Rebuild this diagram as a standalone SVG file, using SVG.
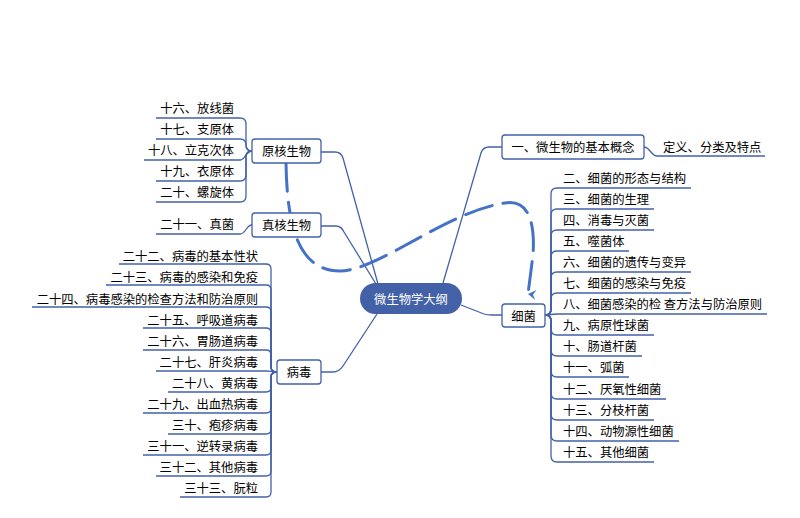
<svg xmlns="http://www.w3.org/2000/svg" width="800" height="518" viewBox="0 0 800 518">
<defs>
<style>
.c{fill:none;stroke:#4262a8;stroke-width:1.3}
.n rect{fill:#fff;stroke:#4262a8;stroke-width:1.3}
.t{font-family:"Noto Sans CJK SC","Noto Sans",sans-serif;font-size:12.3px;fill:#000;dominant-baseline:central}
.l{text-anchor:end}
.m{text-anchor:middle}
.d{fill:none;stroke:#4472c4;stroke-width:3;stroke-dasharray:28 11;stroke-linecap:round}
</style>
<marker id="ah" markerUnits="userSpaceOnUse" markerWidth="12" markerHeight="12" refX="6" refY="10" orient="auto-start-reverse" viewBox="0 0 12 12">
<path d="M1,2 L6,10 L11,2 L6,5 Z" fill="#4472c4"/>
</marker>
</defs>
<rect width="800" height="518" fill="#fff"/>
<g id="connectors">
<path class="c" d="M321,152 H335 Q341,152 343,158 L378,284"/>
<path class="c" d="M321,226 H336 Q341,226 344,232 L376,284"/>
<path class="c" d="M443,283 L481,153 Q483,147 489,147 H502"/>
<path class="c" d="M461,305 L484,314 Q487,315 492,315 H502"/>
<path class="c" d="M377,314 L343,366 Q339,372 333,372 H321"/>
<path class="c" d="M644,147 C650,147 651,156 657,156 H765"/>
<path class="c" d="M156,118 H240 Q246,118 246,124 V145 Q246,151 252,151"/>
<path class="c" d="M156,139 H240 Q246,139 246,145 Q246,151 252,151"/>
<path class="c" d="M144,160 H240 C245,160 246,151 252,151"/>
<path class="c" d="M156,181 H240 Q246,181 246,175 V157 Q246,151 252,151"/>
<path class="c" d="M156,202 H240 Q246,202 246,196 V157 Q246,151 252,151"/>
<path class="c" d="M156,234 H240 C246,234 246,225 252,225"/>
<path class="c" d="M119,264 H266 Q271,264 271,269 V367 Q271,372 277,372"/>
<path class="c" d="M106,285 H266 Q271,285 271,290 V367 Q271,372 277,372"/>
<path class="c" d="M32,307 H266 Q271,307 271,312 V367 Q271,372 277,372"/>
<path class="c" d="M143,328 H266 Q271,328 271,333 V367 Q271,372 277,372"/>
<path class="c" d="M143,350 H266 Q271,350 271,355 V367 Q271,372 277,372"/>
<path class="c" d="M156,371 H266 C271,371 271,372 277,372"/>
<path class="c" d="M168,392 H266 Q271,392 271,387 V377 Q271,372 277,372"/>
<path class="c" d="M143,413 H266 Q271,413 271,408 V377 Q271,372 277,372"/>
<path class="c" d="M168,434 H266 Q271,434 271,429 V377 Q271,372 277,372"/>
<path class="c" d="M143,455 H266 Q271,455 271,450 V377 Q271,372 277,372"/>
<path class="c" d="M156,476 H266 Q271,476 271,471 V377 Q271,372 277,372"/>
<path class="c" d="M180,497 H266 Q271,497 271,492 V377 Q271,372 277,372"/>
<path class="c" d="M545,315 Q551,315 551,309 V194 Q551,188 557,188 H691"/>
<path class="c" d="M545,315 Q551,315 551,309 V215 Q551,209 557,209 H654"/>
<path class="c" d="M545,315 Q551,315 551,309 V236 Q551,230 557,230 H654"/>
<path class="c" d="M545,315 Q551,315 551,309 V257 Q551,251 557,251 H629"/>
<path class="c" d="M545,315 Q551,315 551,309 V278 Q551,272 557,272 H691"/>
<path class="c" d="M545,315 Q551,315 551,309 V299 Q551,293 557,293 H691"/>
<path class="c" d="M545,315 C551,315 551,314 557,314 H767"/>
<path class="c" d="M545,315 Q551,315 551,321 V329 Q551,335 557,335 H654"/>
<path class="c" d="M545,315 Q551,315 551,321 V350 Q551,356 557,356 H642"/>
<path class="c" d="M545,315 Q551,315 551,321 V371 Q551,377 557,377 H629"/>
<path class="c" d="M545,315 Q551,315 551,321 V393 Q551,399 557,399 H666"/>
<path class="c" d="M545,315 Q551,315 551,321 V414 Q551,420 557,420 H654"/>
<path class="c" d="M545,315 Q551,315 551,321 V435 Q551,441 557,441 H679"/>
<path class="c" d="M545,315 Q551,315 551,321 V456 Q551,462 557,462 H654"/>
<path class="d" marker-end="url(#ah)" d="M286,163 C287,230 300,271 340,271 C380,270 445,212 505,203 C530,199 535,225 533,255 L528,294"/>
</g>
<g id="center">
<rect x="360" y="283" width="102" height="31" rx="15.5" fill="#4361a7"/>
<text class="t m" x="411" y="298.5" fill="#fff" style="fill:#fff">微生物学大纲</text>
</g>
<g id="n-prokaryote" class="n">
<rect x="252" y="139" width="69" height="24" rx="3"/>
<text class="t m" x="286.5" y="151">原核生物</text>
</g>
<g id="n-eukaryote" class="n">
<rect x="252" y="213" width="69" height="24" rx="3"/>
<text class="t m" x="286.5" y="225">真核生物</text>
</g>
<g id="n-virus" class="n">
<rect x="277" y="360" width="44" height="24" rx="3"/>
<text class="t m" x="299" y="372">病毒</text>
</g>
<g id="n-bacteria" class="n">
<rect x="502" y="304" width="43" height="23" rx="3"/>
<text class="t m" x="523.5" y="315.5">细菌</text>
</g>
<g id="n-concept" class="n">
<rect x="502" y="135" width="142" height="24" rx="3"/>
<text class="t m" x="573" y="147">一、微生物的基本概念</text>
</g>
<g id="leaves-concept">
<text class="t" x="663" y="147">定义、分类及特点</text>
</g>
<g id="leaves-prokaryote">
<text class="t l" x="234" y="108">十六、放线菌</text>
<text class="t l" x="234" y="129">十七、支原体</text>
<text class="t l" x="234" y="150">十八、立克次体</text>
<text class="t l" x="234" y="171">十九、衣原体</text>
<text class="t l" x="234" y="192">二十、螺旋体</text>
</g>
<g id="leaves-eukaryote">
<text class="t l" x="234" y="224">二十一、真菌</text>
</g>
<g id="leaves-virus">
<text class="t l" x="258" y="255.5">二十二、病毒的基本性状</text>
<text class="t l" x="258" y="276.5">二十三、病毒的感染和免疫</text>
<text class="t l" x="258" y="298.5">二十四、病毒感染的检查方法和防治原则</text>
<text class="t l" x="258" y="319.5">二十五、呼吸道病毒</text>
<text class="t l" x="258" y="341">二十六、胃肠道病毒</text>
<text class="t l" x="258" y="362">二十七、肝炎病毒</text>
<text class="t l" x="258" y="383">二十八、黄病毒</text>
<text class="t l" x="258" y="404">二十九、出血热病毒</text>
<text class="t l" x="258" y="425">三十、疱疹病毒</text>
<text class="t l" x="258" y="446">三十一、逆转录病毒</text>
<text class="t l" x="258" y="467">三十二、其他病毒</text>
<text class="t l" x="258" y="488">三十三、朊粒</text>
</g>
<g id="leaves-bacteria">
<text class="t" x="563" y="178">二、细菌的形态与结构</text>
<text class="t" x="563" y="199">三、细菌的生理</text>
<text class="t" x="563" y="220">四、消毒与灭菌</text>
<text class="t" x="563" y="241">五、噬菌体</text>
<text class="t" x="563" y="262">六、细菌的遗传与变异</text>
<text class="t" x="563" y="283">七、细菌的感染与免疫</text>
<text class="t" x="563" y="304" textLength="199">八、细菌感染的检 查方法与防治原则</text>
<text class="t" x="563" y="325">九、病原性球菌</text>
<text class="t" x="563" y="346">十、肠道杆菌</text>
<text class="t" x="563" y="367">十一、弧菌</text>
<text class="t" x="563" y="389">十二、厌氧性细菌</text>
<text class="t" x="563" y="410">十三、分枝杆菌</text>
<text class="t" x="563" y="431">十四、动物源性细菌</text>
<text class="t" x="563" y="452">十五、其他细菌</text>
</g>
</svg>
